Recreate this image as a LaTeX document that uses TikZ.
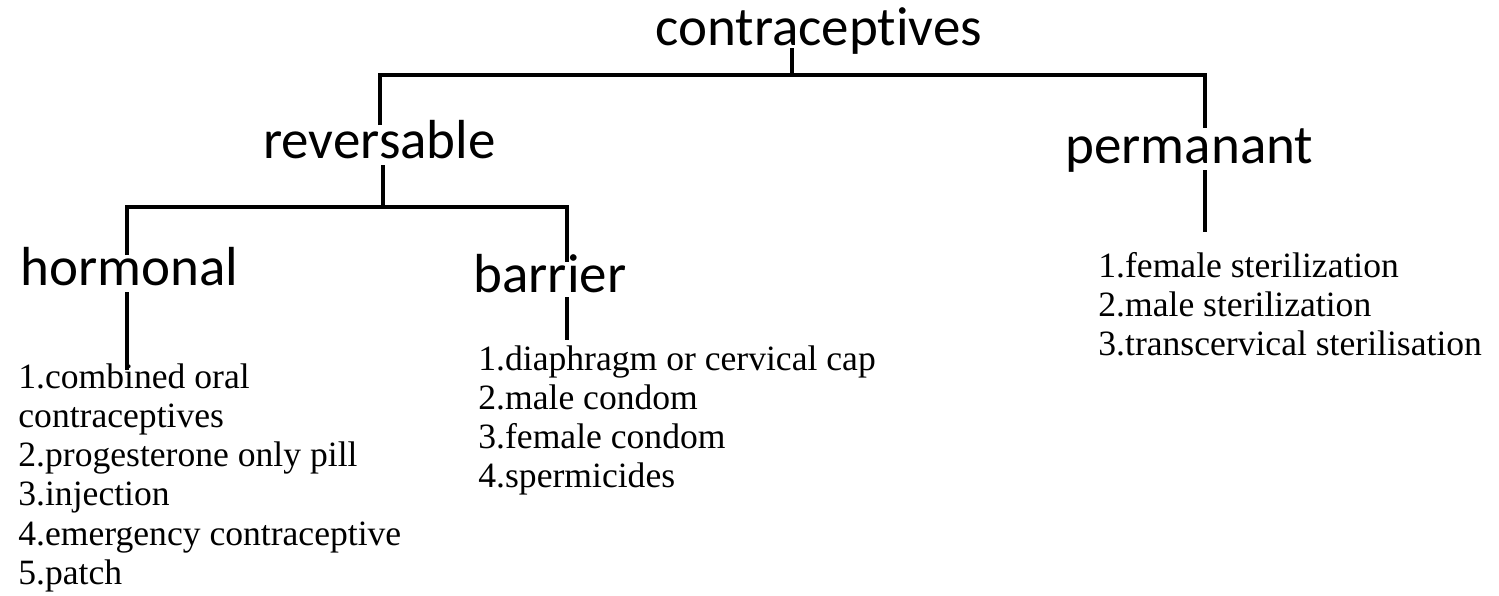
\documentclass[tikz,border=0pt]{standalone}
\usepackage{fontspec}
\setmainfont{Liberation Serif}
\newfontfamily\headfont[Ligatures={NoCommon,NoContextual}]{Carlito}
\usetikzlibrary{calc}
\tikzset{
  conn/.style={line width=2pt, black},
  head/.style={inner sep=0pt, anchor=base west, font=\headfont\fontsize{27.5pt}{33pt}\selectfont},
  items/.style={inner sep=0pt, anchor=base west, font=\fontsize{17.8pt}{19.65pt}\selectfont}
}
\newcommand{\itemlist}[1]{\begin{tabular}[t]{@{}l@{}}#1\end{tabular}}
\begin{document}
\begin{tikzpicture}[x=0.5pt,y=-0.5pt]
\useasboundingbox[fill=white] (0,0) rectangle (1499,595);
% text nodes
\node[head] (root) at (655,45) {contraceptives};
\node[head] (rev) at (263,158) {reversable};
\node[head] (perm) at (1065,163) {permanant};
\node[head] (horm) at (20,285) {hormonal};
\node[head] (barr) at (473,292) {barrier};
\node[items] (hlist) at (18,388) {\itemlist{1.combined oral\\contraceptives\\2.progesterone only pill\\3.injection\\4.emergency contraceptive\\5.patch}};
\node[items] (blist) at (478,370) {\itemlist{1.diaphragm or cervical cap\\2.male condom\\3.female condom\\4.spermicides}};
\node[items] (plist) at (1098,277) {\itemlist{1.female sterilization\\2.male sterilization\\3.transcervical sterilisation}};
% junctions
\coordinate (jtop) at (792,75);
\coordinate (jl) at (380,75);
\coordinate (jr) at (1205,75);
\coordinate (jm) at (383,207);
\coordinate (jhl) at (127,207);
\coordinate (jhr) at (567,207);
% connectors
\draw[conn] ($(jtop |- root.base)+(0,3)$) -- (jtop);
\draw[conn] ($(jl |- rev.base)+(0,-33)$) -- (jl) -- (jr) -- ($(jr |- perm.base)+(0,-35)$);
\draw[conn] ($(jm |- rev.base)+(0,7)$) -- (jm);
\draw[conn] ($(jhl |- horm.base)+(0,-30)$) -- (jhl) -- (jhr) -- ($(jhr |- barr.base)+(0,-30)$);
\draw[conn] ($(jhl |- horm.base)+(0,7)$) -- ($(jhl |- hlist.base)+(0,-18)$);
\draw[conn] ($(jhr |- barr.base)+(0,5)$) -- ($(jhr |- blist.base)+(0,-30)$);
\draw[conn] ($(jr |- perm.base)+(0,7)$) -- ($(jr |- plist.base)+(0,-45)$);
\end{tikzpicture}
\end{document}
